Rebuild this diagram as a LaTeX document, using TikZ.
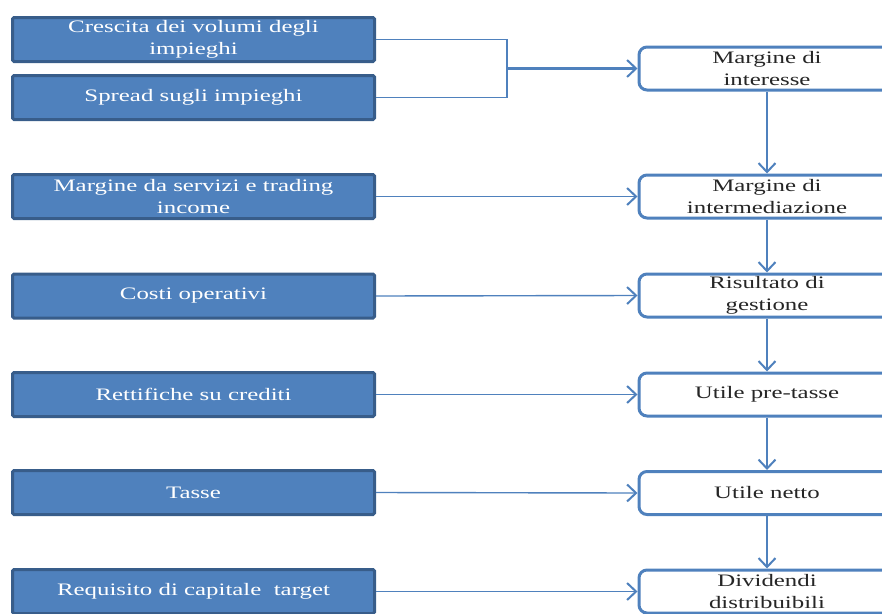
\documentclass[tikz,border=0pt]{standalone}
\usepackage{fontspec}
\setmainfont[FakeStretch=1.42]{Liberation Serif}
\usetikzlibrary{arrows.meta}
\definecolor{boxfill}{HTML}{4F81BD}
\definecolor{boxedge}{HTML}{385D8A}
\definecolor{linkc}{HTML}{4F81BD}
\tikzset{
  inbox/.style={draw=boxedge, line width=3pt, fill=boxfill, text=white, rounded corners=1.5pt,
    minimum width=362pt, minimum height=44pt, align=center, font=\fontsize{17.5}{21.5}\selectfont, inner sep=0pt},
  outbox/.style={draw=linkc, line width=3pt, fill=white, text=black!85, rounded corners=8pt,
    minimum width=256pt, minimum height=43pt, align=center, font=\fontsize{17.5}{21.5}\selectfont, inner sep=0pt},
  feed/.style={draw=linkc, line width=1.4pt},
  flow/.style={draw=linkc, line width=2.6pt},
  tip/.style={-{Straight Barb[length=9pt,width=17pt,line width=2pt]}}
}
\begin{document}
\begin{tikzpicture}[x=1pt,y=-1pt]
\useasboundingbox (0,0) rectangle (882,613);
\clip (0,0) rectangle (882,613);
% left boxes
\node[inbox] (l1) at (193.5,39.5) {Crescita dei volumi degli\\impieghi};
\node[inbox] (l2) at (193.5,97.5) {Spread sugli impieghi};
\node[inbox] (l3) at (193.5,196.5) {Margine da servizi e trading\\income};
\node[inbox] (l4) at (193.5,296) {Costi operativi};
\node[inbox] (l5) at (193.5,394.5) {Rettifiche su crediti};
\node[inbox] (l6) at (193.5,492.5) {Tasse};
\node[inbox] (l7) at (193.5,591.5) {Requisito di capitale\ \ target};
% right boxes
\node[outbox] (r1) at (767,68.5) {Margine di\\interesse};
\node[outbox] (r2) at (767,196.5) {Margine di\\intermediazione};
\node[outbox] (r3) at (767,295.5) {Risultato di\\gestione};
\node[outbox] (r4) at (767,394.5) {Utile pre-tasse};
\node[outbox] (r5) at (767,493) {Utile netto};
\node[outbox] (r6) at (767,591.5) {Dividendi\\distribuibili};
% bracket join
\coordinate (j) at (507,68.5);
\draw[feed] (l1.east) -| (j);
\draw[feed] (l2.east) -| (j);
\draw[flow, line width=2.2pt, tip] (j) -- (r1.west);
% feeds
\draw[feed, tip] (l3.east) -- (r2.west);
\draw[feed, tip] (l4.east) -- (r3.west);
\draw[feed, tip] (l5.east) -- (r4.west);
\draw[feed, tip] (l6.east) -- (r5.west);
\draw[feed, tip] (l7.east) -- (r6.west);
% vertical flow
\draw[flow, tip] (r1) -- (r2);
\draw[flow, tip] (r2) -- (r3);
\draw[flow, tip] (r3) -- (r4);
\draw[flow, tip] (r4) -- (r5);
\draw[flow, tip] (r5) -- (r6);
\end{tikzpicture}
\end{document}
